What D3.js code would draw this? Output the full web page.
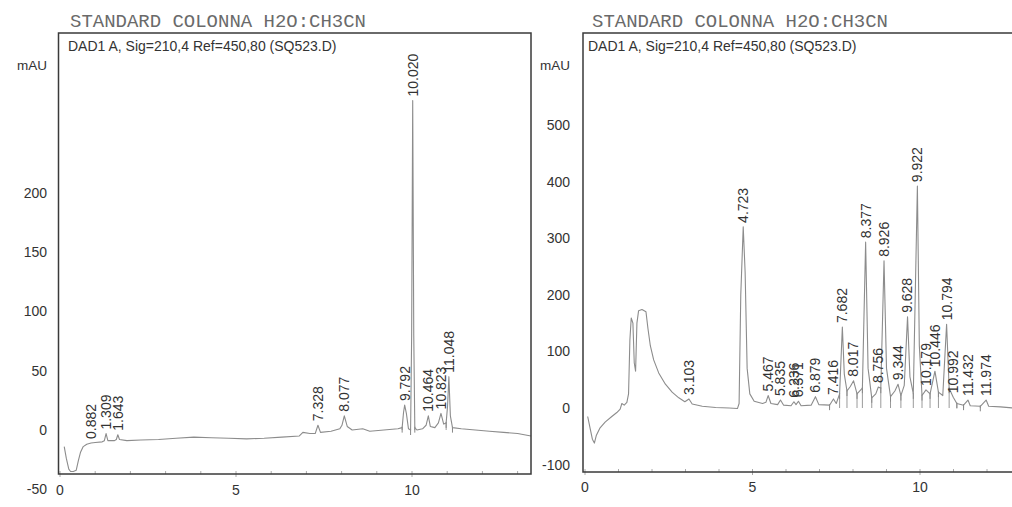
<!DOCTYPE html>
<html><head><meta charset="utf-8">
<script src="https://cdn.jsdelivr.net/npm/d3@7"></script>
<style>body{margin:0;background:#fff}svg{display:block}</style>
</head><body>
<svg id="c" width="1012" height="507"></svg>
<script>
const titleText = "STANDARD COLONNA H2O:CH3CN";
const subtitleText = "DAD1 A, Sig=210,4 Ref=450,80 (SQ523.D)";
const unitText = "mAU";

const leftXTicks = [0, 5, 10];
const leftYTicks = [-50, 0, 50, 100, 150, 200];
const rightXTicks = [0, 5, 10];
const rightYTicks = [-100, 0, 100, 200, 300, 400, 500];

// [retention time (min), signal (mAU)]
const leftTrace = [[0.12,-14],[0.18,-24],[0.25,-33],[0.3,-35],[0.38,-35],[0.46,-34],[0.52,-26],[0.58,-19],[0.66,-14],[0.76,-12],[0.882,-11],[1.0,-10.5],[1.2,-10],[1.26,-9],[1.309,-3],[1.36,-9],[1.55,-9],[1.6,-8],[1.643,-4],[1.69,-8],[1.9,-9],[2.3,-8.5],[2.8,-8],[3.3,-7],[3.8,-6],[4.3,-6.5],[4.8,-7],[5.3,-7.5],[5.8,-7],[6.3,-6],[6.8,-5],[6.9,-2],[7.1,-3],[7.25,-3],[7.328,4],[7.4,-2],[7.7,-1],[7.95,1],[8.01,4],[8.077,12],[8.16,3],[8.3,0],[8.6,1],[8.8,-1],[9.2,0],[9.6,1],[9.72,2],[9.76,15],[9.792,21],[9.84,14],[9.9,1],[9.96,0],[9.99,80],[10.020,278],[10.05,80],[10.08,2],[10.14,0],[10.3,1],[10.4,4],[10.464,12],[10.52,3],[10.65,2],[10.75,6],[10.823,14],[10.9,5],[10.97,6],[11.01,20],[11.048,45],[11.09,12],[11.15,2],[11.4,1],[11.8,0],[12.2,-1],[12.6,-2],[13.0,-3],[13.38,-5]];
const leftPeaks = [0.882, 1.309, 1.643, 7.328, 8.077, 9.792, 10.020, 10.464, 10.823, 11.048];
const leftDrops = [9.72, 9.96, 10.08, 10.97, 11.15];

const rightTrace = [[0.08,-15],[0.15,-35],[0.22,-55],[0.28,-62],[0.34,-48],[0.45,-35],[0.6,-25],[0.8,-15],[0.95,-8],[1.05,-2],[1.1,8],[1.17,5],[1.25,10],[1.3,25],[1.34,120],[1.38,159],[1.43,150],[1.47,80],[1.51,65],[1.55,150],[1.6,172],[1.7,174],[1.82,170],[1.88,140],[1.95,110],[2.05,85],[2.2,62],[2.4,42],[2.6,28],[2.8,18],[2.98,11],[3.103,16],[3.2,7],[3.5,3],[3.9,1],[4.3,0],[4.55,-1],[4.6,8],[4.65,200],[4.723,320],[4.78,240],[4.84,70],[4.92,25],[5.05,12],[5.3,8],[5.4,10],[5.467,22],[5.55,8],[5.75,6],[5.835,14],[5.93,5],[6.15,4],[6.236,11],[6.3,6],[6.371,12],[6.45,4],[6.75,5],[6.879,20],[6.98,6],[7.3,5],[7.416,16],[7.5,8],[7.6,25],[7.682,143],[7.74,60],[7.82,30],[7.92,38],[8.017,48],[8.12,25],[8.28,35],[8.377,293],[8.45,70],[8.56,18],[8.68,25],[8.756,37],[8.83,35],[8.926,260],[9.0,70],[9.12,20],[9.25,30],[9.344,42],[9.43,22],[9.53,40],[9.628,161],[9.7,55],[9.8,25],[9.922,392],[9.98,110],[10.06,22],[10.179,32],[10.3,25],[10.446,65],[10.55,28],[10.68,22],[10.794,148],[10.87,35],[10.992,19],[11.1,8],[11.3,5],[11.432,14],[11.5,4],[11.8,3],[11.974,14],[12.05,3],[12.4,2],[12.8,0],[13.0,-1]];
const rightPeaks = [3.103, 4.723, 5.467, 5.835, 6.236, 6.371, 6.879, 7.416, 7.682, 8.017, 8.377, 8.756, 8.926, 9.344, 9.628, 9.922, 10.179, 10.446, 10.794, 10.992, 11.432, 11.974];
const rightDrops = [7.3, 7.6, 7.82, 8.12, 8.28, 8.56, 8.83, 9.12, 9.43, 9.8, 10.06, 10.3, 10.55, 10.87, 11.1, 11.3, 11.8];

const svg = d3.select("#c");
const FONT = "'Liberation Sans', Arial, sans-serif";

function panel(cfg) {
  const g = svg.append("g");
  const x = d3.scaleLinear().domain(cfg.xDomain).range([cfg.box.x0, cfg.box.x1]);
  const y = d3.scaleLinear().domain(cfg.yDomain).range([cfg.box.y1, cfg.box.y0]);

  // title
  g.append("text").attr("x", cfg.titleX).attr("y", 27)
    .attr("font-family", "'Liberation Mono', 'Courier New', monospace")
    .attr("font-size", 18).attr("fill", "#6a6a6a")
    .attr("textLength", 296).attr("lengthAdjust", "spacingAndGlyphs")
    .text(titleText);
  // subtitle
  g.append("text").attr("x", cfg.subX).attr("y", 51)
    .attr("font-family", FONT).attr("font-size", 14).attr("fill", "#333")
    .text(subtitleText);
  // unit
  g.append("text").attr("x", cfg.unitX).attr("y", 70)
    .attr("text-anchor", "end")
    .attr("font-family", FONT).attr("font-size", 13.5).attr("fill", "#333")
    .text(unitText);

  // y tick labels
  g.selectAll(".yt").data(cfg.yTicks).join("text")
    .attr("x", cfg.yLabelX).attr("y", d => y(d)).attr("dy", "0.35em")
    .attr("text-anchor", "end").attr("font-family", FONT).attr("font-size", 14).attr("fill", "#333")
    .text(d => d);
  // x tick labels
  g.selectAll(".xt").data(cfg.xTicks).join("text")
    .attr("x", d => x(d)).attr("y", cfg.xLabelY)
    .attr("text-anchor", "middle").attr("font-family", FONT).attr("font-size", 14).attr("fill", "#333")
    .text(d => d);
  // minor ticks along bottom
  const minor = d3.range(Math.ceil(cfg.xDomain[0]), Math.floor(cfg.xDomain[1]) + 1);
  g.selectAll(".mt").data(minor).join("line")
    .attr("x1", d => x(d)).attr("x2", d => x(d))
    .attr("y1", cfg.box.y1 - 3).attr("y2", d => cfg.xTicks.includes(d) ? cfg.box.y1 + 3 : cfg.box.y1)
    .attr("stroke", "#aaa").attr("stroke-width", 1);

  // drop lines
  const valAt = t => { const p = cfg.trace.find(q => Math.abs(q[0] - t) < 1e-9); return p ? p[1] : 0; };
  g.selectAll(".dl").data(cfg.drops).join("line")
    .attr("x1", d => x(d)).attr("x2", d => x(d))
    .attr("y1", d => y(Math.min(0, valAt(d)))).attr("y2", d => y(valAt(d)))
    .attr("stroke", "#9a9a9a").attr("stroke-width", 1);
  g.selectAll(".db").data(cfg.drops).join("line")
    .attr("x1", d => x(d)).attr("x2", d => x(d))
    .attr("y1", d => y(valAt(d)) - 1).attr("y2", d => y(valAt(d)) + 5)
    .attr("stroke", "#888").attr("stroke-width", 1);

  // trace
  const line = d3.line().x(d => x(d[0])).y(d => y(d[1]));
  g.append("path").datum(cfg.trace).attr("d", line)
    .attr("fill", "none").attr("stroke", "#8c8c8c").attr("stroke-width", 1.1)
    .attr("stroke-linejoin", "round");

  // peak labels
  g.selectAll(".pk").data(cfg.peaks).join("text")
    .attr("transform", d => `translate(${x(d)},${y(valAt(d)) - 4}) rotate(-90)`)
    .attr("dy", "0.35em")
    .attr("font-family", FONT).attr("font-size", 14).attr("fill", "#333")
    .text(d => d.toFixed(3));

  // box
  g.append("rect").attr("x", cfg.box.x0).attr("y", cfg.box.y0)
    .attr("width", cfg.box.x1 - cfg.box.x0).attr("height", cfg.box.y1 - cfg.box.y0)
    .attr("fill", "none").attr("stroke", "#3a3a3a").attr("stroke-width", 1.5);
}

// left panel: x(0)=60, 35.2 px/min; y(0)=430, 1.185 px/mAU
panel({
  box: {x0: 58.5, x1: 531, y0: 33, y1: 474},
  xDomain: [(58.5 - 60) / 35.2, (531 - 60) / 35.2],
  yDomain: [(430 - 474) / 1.185, (430 - 33) / 1.185],
  trace: leftTrace, peaks: leftPeaks, drops: leftDrops,
  xTicks: leftXTicks, yTicks: leftYTicks,
  titleX: 70, subX: 68, unitX: 47, yLabelX: 47, xLabelY: 495
});
// right panel: x(0)=585, 33.5 px/min; y(0)=408, 0.566 px/mAU
panel({
  box: {x0: 583, x1: 1020, y0: 33, y1: 472},
  xDomain: [(583 - 585) / 33.5, (1020 - 585) / 33.5],
  yDomain: [(408 - 472) / 0.566, (408 - 33) / 0.566],
  trace: rightTrace, peaks: rightPeaks, drops: rightDrops,
  xTicks: rightXTicks, yTicks: rightYTicks,
  titleX: 592, subX: 588, unitX: 570, yLabelX: 570, xLabelY: 492
});
</script>
</body></html>
